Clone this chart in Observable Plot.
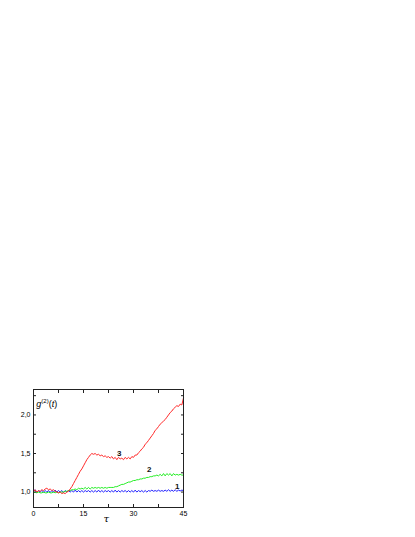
<!DOCTYPE html>
<html>
<head>
<meta charset="utf-8">
<script src="https://cdn.jsdelivr.net/npm/d3@7"></script>
<script src="https://cdn.jsdelivr.net/npm/@observablehq/plot@0.6"></script>
<style>
  html, body { margin: 0; padding: 0; background: #fff; }
  #chart svg { display: block; }
</style>
</head>
<body>
<div id="chart"></div>
<script>
const tau = [0,0.5,1,1.5,2,2.5,3,3.5,4,4.5,5,5.5,6,6.5,7,7.5,8,8.5,9,9.5,10,10.5,11,11.5,12,12.5,13,13.5,14,14.5,15,15.5,16,16.5,17,17.5,18,18.5,19,19.5,20,20.5,21,21.5,22,22.5,23,23.5,24,24.5,25,25.5,26,26.5,27,27.5,28,28.5,29,29.5,30,30.5,31,31.5,32,32.5,33,33.5,34,34.5,35,35.5,36,36.5,37,37.5,38,38.5,39,39.5,40,40.5,41,41.5,42,42.5,43,43.5,44,44.5,45];

const curve3 = [1.01,1.03,1.00,1.02,1.01,1.03,1.02,1.04,1.05,1.03,1.04,1.02,1.03,1.01,1.00,0.99,1.00,0.98,0.99,0.98,1.00,1.01,1.04,1.07,1.11,1.15,1.19,1.23,1.27,1.30,1.34,1.38,1.42,1.45,1.48,1.50,1.49,1.50,1.48,1.49,1.47,1.48,1.46,1.47,1.45,1.46,1.44,1.46,1.43,1.45,1.42,1.45,1.43,1.44,1.42,1.45,1.43,1.45,1.43,1.46,1.45,1.48,1.48,1.51,1.53,1.56,1.58,1.62,1.64,1.67,1.70,1.73,1.76,1.80,1.82,1.85,1.88,1.90,1.92,1.94,1.97,2.00,2.03,2.05,2.08,2.10,2.12,2.11,2.14,2.13,2.22];

const curve2 = [0.99,1.00,0.99,1.00,0.99,0.99,1.00,0.99,0.99,1.00,0.99,0.99,1.00,0.99,1.00,0.99,1.00,1.00,1.00,1.01,1.01,1.02,1.02,1.03,1.03,1.04,1.03,1.05,1.04,1.05,1.04,1.06,1.04,1.06,1.04,1.06,1.05,1.06,1.05,1.06,1.05,1.06,1.05,1.06,1.05,1.06,1.06,1.06,1.06,1.07,1.07,1.08,1.09,1.10,1.10,1.11,1.12,1.13,1.13,1.14,1.15,1.15,1.16,1.16,1.17,1.17,1.18,1.18,1.19,1.19,1.20,1.20,1.21,1.21,1.22,1.21,1.23,1.21,1.24,1.21,1.24,1.22,1.24,1.21,1.24,1.22,1.23,1.22,1.23,1.22,1.22];

const curve1 = [1.01,1.03,0.99,1.02,1.00,1.02,1.00,1.02,1.00,1.02,0.995,1.02,1.00,1.025,1.00,1.02,1.00,1.02,0.995,1.02,1.00,1.02,1.00,1.02,1.00,1.025,1.00,1.02,1.00,1.02,1.00,1.02,1.005,1.02,1.00,1.02,1.00,1.02,1.00,1.025,1.00,1.02,1.00,1.02,1.005,1.02,1.00,1.02,1.00,1.025,1.00,1.02,1.00,1.02,1.005,1.02,1.00,1.02,1.00,1.02,1.00,1.025,1.00,1.02,1.005,1.02,1.00,1.02,1.00,1.02,1.01,1.025,1.01,1.02,1.01,1.025,1.01,1.02,1.01,1.025,1.01,1.03,1.01,1.025,1.01,1.03,1.01,1.025,1.015,1.025,1.02];

const xTickLabels = [0, 15, 30, 45];
const xTickMarks = [0, 7.5, 15, 22.5, 30, 37.5, 45];
const yTickLabels = [1.0, 1.5, 2.0];
const yTickMarks = [1.0, 1.25, 1.5, 1.75, 2.0, 2.25];

const curveNames = ["1", "2", "3"];
const curveColors = ["#2020ff", "#22ee22", "#ff2a2a"];
const curveLabelX = [43.1, 34.7, 25.7];
const curveLabelY = [1.07, 1.29, 1.50];

const rows = [];
[curve1, curve2, curve3].forEach((vals, i) => {
  vals.forEach((v, j) => rows.push({tau: tau[j], g: v, curve: curveNames[i]}));
});
const labelRows = curveNames.map((n, i) => ({x: curveLabelX[i], y: curveLabelY[i], t: n}));

const comma = d => d.toFixed(1).replace(".", ",");

const plot = Plot.plot({
  width: 415,
  height: 537,
  marginLeft: 33,
  marginRight: 232,
  marginTop: 389,
  marginBottom: 30,
  style: {fontFamily: "'Liberation Sans', Arial, sans-serif", fontSize: "7px", background: "#fff", color: "#000"},
  x: {domain: [0, 45]},
  y: {domain: [0.8, 2.33]},
  color: {domain: curveNames, range: curveColors},
  marks: [
    Plot.line(rows, {x: "tau", y: "g", z: "curve", stroke: "curve", strokeWidth: 1}),
    Plot.frame({stroke: "#222", strokeWidth: 1}),
    Plot.axisX({anchor: "bottom", ticks: xTickMarks, tickSize: -3, text: null, stroke: "#222"}),
    Plot.axisX({anchor: "top", ticks: xTickMarks, tickSize: -3, text: null, stroke: "#222"}),
    Plot.axisX({anchor: "bottom", ticks: xTickLabels, tickSize: 0, tickPadding: 4, label: null, fill: "#000"}),
    Plot.axisY({anchor: "left", ticks: yTickMarks, tickSize: -3, text: null, stroke: "#222"}),
    Plot.axisY({anchor: "right", ticks: yTickMarks, tickSize: -3, text: null, stroke: "#222"}),
    Plot.axisY({anchor: "left", ticks: yTickLabels, tickSize: 0, tickPadding: 3, tickFormat: comma, label: null, fill: "#000"}),
    Plot.text(labelRows, {x: "x", y: "y", text: "t", fontSize: 8, fontWeight: "bold", fill: "#111"})
  ]
});

document.getElementById("chart").appendChild(plot);

// y-axis title g^(2)(t) and x-axis title τ, positioned through the plot scales
const sx = plot.scale("x"), sy = plot.scale("y");
const svg = d3.select(plot);
const gl = svg.append("text")
  .attr("x", sx.apply(1.0))
  .attr("y", sy.apply(2.1))
  .attr("text-anchor", "start")
  .attr("font-family", "'Liberation Sans', Arial, sans-serif")
  .attr("font-size", 9)
  .attr("fill", "#000");
gl.append("tspan").attr("font-style", "italic").text("g");
gl.append("tspan").attr("font-size", 6).attr("dy", -4).text("(2)");
gl.append("tspan").attr("dy", 4).text("(");
gl.append("tspan").attr("font-style", "italic").text("t");
gl.append("tspan").text(")");

svg.append("text")
  .attr("x", sx.apply(22))
  .attr("y", sy.apply(0.8) + 15)
  .attr("text-anchor", "middle")
  .attr("font-family", "'DejaVu Serif', serif")
  .attr("font-style", "italic")
  .attr("font-size", 10)
  .attr("fill", "#000")
  .text("τ");
</script>
</body>
</html>
